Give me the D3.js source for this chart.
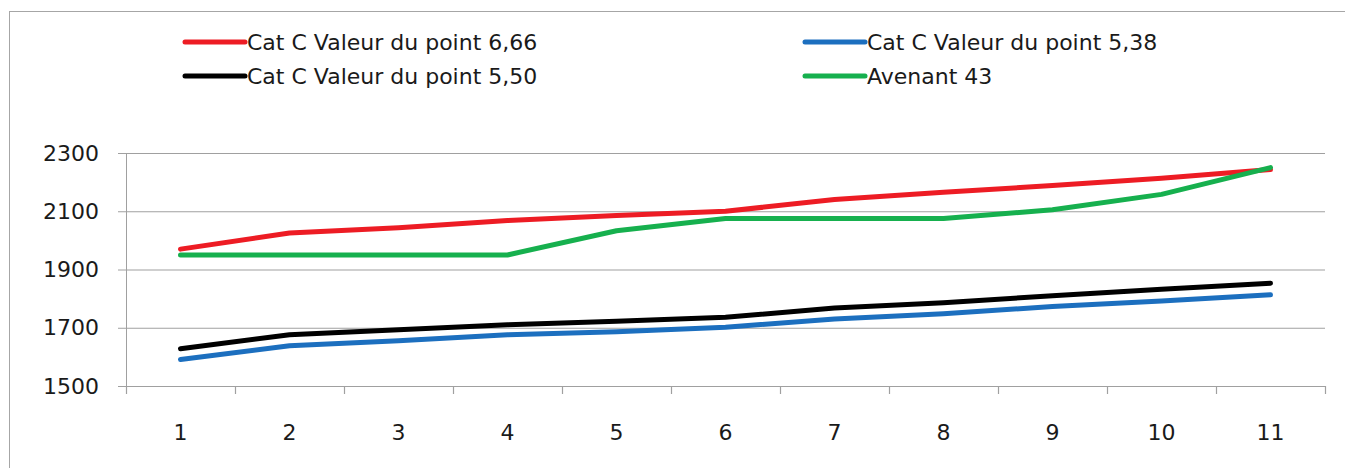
<!DOCTYPE html>
<html>
<head>
<meta charset="utf-8">
<script src="https://cdn.jsdelivr.net/npm/d3@7/dist/d3.min.js"></script>
<style>
  html, body { margin: 0; padding: 0; background: #fff; }
  svg { display: block; }
  text { font-family: "DejaVu Sans", sans-serif; fill: #1a1a1a; }
</style>
</head>
<body>
<svg id="chart" width="1345" height="468"></svg>
<script>
// Categories along the x axis
const categories = ["1", "2", "3", "4", "5", "6", "7", "8", "9", "10", "11"];

// Series values
const catC666 = [1970, 2025, 2043, 2068, 2085, 2100, 2140, 2165, 2188, 2213, 2243];
const catC538 = [1591, 1638, 1655, 1676, 1686, 1702, 1730, 1748, 1773, 1792, 1813];
const catC550 = [1628, 1676, 1693, 1710, 1722, 1736, 1768, 1786, 1810, 1832, 1853];
const avenant43 = [1950, 1950, 1950, 1950, 2033, 2075, 2075, 2075, 2105, 2158, 2250];

// Series names and colours
const seriesNames = ["Cat C Valeur du point 6,66", "Cat C Valeur du point 5,38",
                     "Cat C Valeur du point 5,50", "Avenant 43"];
const seriesColors = ["#ed1c24", "#1c6fbf", "#000000", "#16b04e"];

// Y axis ticks
const yTicks = [1500, 1700, 1900, 2100, 2300];

const series = [catC666, catC538, catC550, avenant43].map((values, i) => ({
  name: seriesNames[i], color: seriesColors[i], values
}));

const svg = d3.select("#chart");
const W = 1345, H = 468;

// outer frame
svg.append("rect")
  .attr("x", 9.5).attr("y", 11.5)
  .attr("width", W).attr("height", H)
  .attr("fill", "#fff").attr("stroke", "#a6a6a6").attr("stroke-width", 1);

const plot = { left: 126, right: 1325, top: 153, bottom: 386 };

const x = d3.scaleBand().domain(categories).range([plot.left, plot.right]);
const y = d3.scaleLinear().domain([1500, 2300]).range([plot.bottom, plot.top]);

const gridColor = "#a0a0a0";

// horizontal gridlines with left ticks
const yAxis = d3.axisLeft(y).tickValues(yTicks).tickSize(8).tickPadding(19)
  .tickFormat(d3.format("d"));
const gy = svg.append("g").attr("transform", `translate(${plot.left},0)`).call(yAxis);
gy.select(".domain").attr("stroke", gridColor);
gy.selectAll(".tick line").attr("stroke", gridColor);
gy.selectAll(".tick text").attr("font-size", 22).attr("fill", "#1a1a1a")
  .attr("font-family", "DejaVu Sans, sans-serif");

svg.append("g").selectAll("line").data(yTicks).join("line")
  .attr("x1", plot.left).attr("x2", plot.right)
  .attr("y1", d => y(d) + 0.5).attr("y2", d => y(d) + 0.5)
  .attr("stroke", gridColor).attr("stroke-width", 1.2);

// category axis: ticks on category boundaries, labels centred
const gx = svg.append("g").attr("transform", `translate(0,${plot.bottom})`);
gx.append("line").attr("x1", plot.left).attr("x2", plot.right)
  .attr("y1", 0.5).attr("y2", 0.5).attr("stroke", gridColor).attr("stroke-width", 1.2);
const boundaries = categories.map(c => x(c)).concat([plot.right]);
gx.selectAll("line.tk").data(boundaries).join("line").attr("class", "tk")
  .attr("x1", d => Math.round(d) + 0.5).attr("x2", d => Math.round(d) + 0.5)
  .attr("y1", 0).attr("y2", 8).attr("stroke", gridColor).attr("stroke-width", 1.2);
gx.selectAll("text").data(categories).join("text")
  .attr("x", d => x(d) + x.bandwidth() / 2)
  .attr("y", 54)
  .attr("text-anchor", "middle")
  .attr("font-size", 22)
  .text(d => d);

// series lines
const line = d3.line()
  .x((d, i) => x(categories[i]) + x.bandwidth() / 2)
  .y(d => y(d));

svg.append("g").selectAll("path").data(series).join("path")
  .attr("d", d => line(d.values))
  .attr("fill", "none")
  .attr("stroke", d => d.color)
  .attr("stroke-width", 5)
  .attr("stroke-linejoin", "round")
  .attr("stroke-linecap", "round");

// legend, two columns by two rows
const legendPos = [[185, 42], [805, 42], [185, 76], [805, 76]];
const lg = svg.append("g").selectAll("g").data(series).join("g")
  .attr("transform", (d, i) => `translate(${legendPos[i][0]},${legendPos[i][1]})`);
lg.append("line")
  .attr("x1", 0).attr("x2", 60).attr("y1", 0).attr("y2", 0)
  .attr("stroke", d => d.color).attr("stroke-width", 5).attr("stroke-linecap", "round");
lg.append("text")
  .attr("x", 62).attr("y", 0).attr("dy", "0.36em")
  .attr("font-size", 22)
  .text(d => d.name);
</script>
</body>
</html>
